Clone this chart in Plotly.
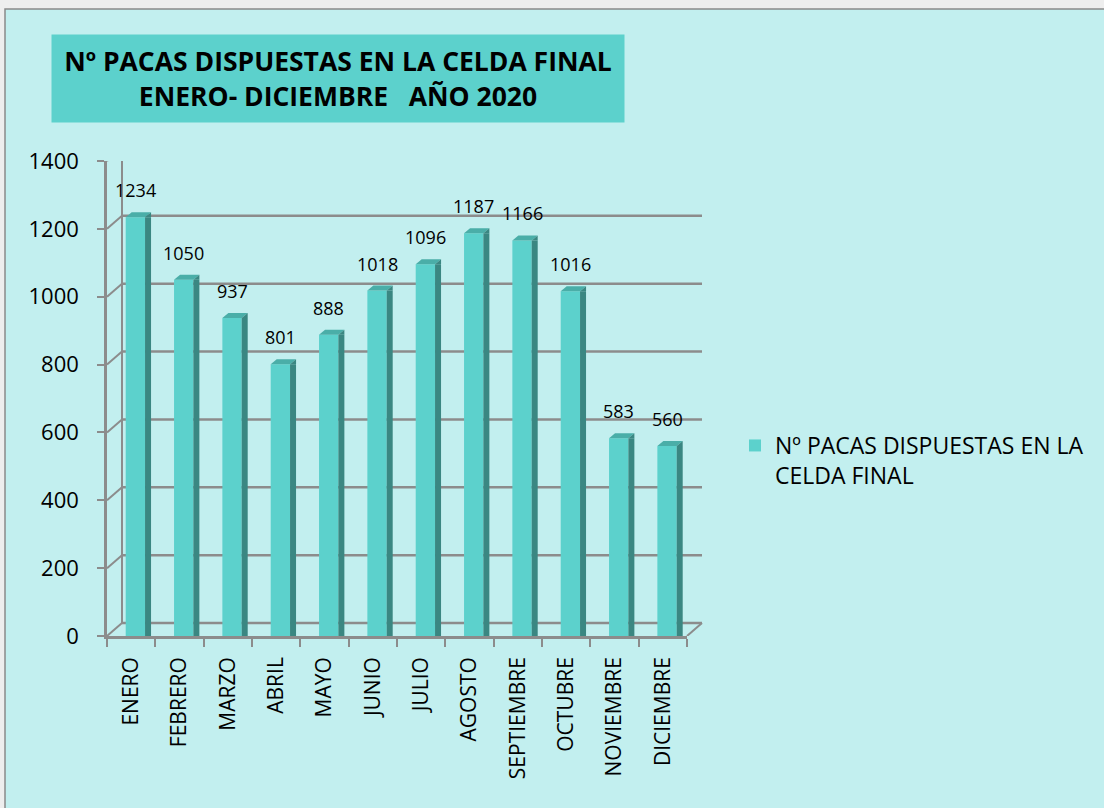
import plotly.graph_objects as go

# ---------------- data ----------------
months = ["ENERO", "FEBRERO", "MARZO", "ABRIL", "MAYO", "JUNIO", "JULIO",
          "AGOSTO", "SEPTIEMBRE", "OCTUBRE", "NOVIEMBRE", "DICIEMBRE"]
values = [1234, 1050, 937, 801, 888, 1018, 1096, 1187, 1166, 1016, 583, 560]
y_ticks = [0, 200, 400, 600, 800, 1000, 1200, 1400]
series_name = "Nº PACAS DISPUESTAS EN LA<br>CELDA FINAL"
title_text = "<b>Nº PACAS DISPUESTAS EN LA CELDA FINAL<br>ENERO- DICIEMBRE   AÑO 2020</b>"

# ---------------- styling ----------------
W, H = 1104, 808
L, R, T, B = 107, 417, 161, 172
plot_w = W - L - R
plot_h = H - T - B
n = len(months)
px_cat = plot_w / n

FACE = "#5CD1CC"
SIDE = "#3A8782"
TOP = "#4AAEA8"
BG = "#C2EFEF"
GRID = "#8C8C8C"
FONT = "Open Sans"

bar_width = 0.4
bar_offset = -0.113
depth_x, depth_y = 6, 5       # bar depth in px
wall_dx, wall_dy = 15, 13     # back wall offset in px


def px_x(p):
    return (p - L) / plot_w


def px_y(p):
    return (H - B - p) / plot_h


fig = go.Figure()
fig.add_trace(go.Bar(
    x=list(range(n)), y=values, width=bar_width, offset=bar_offset,
    marker=dict(color=FACE, line=dict(width=0)),
    name=series_name, showlegend=True, hoverinfo="x+y",
))

shapes = []
# panel background
shapes.append(dict(type="rect", xref="paper", yref="paper", layer="below",
                   x0=px_x(5), x1=px_x(W + 10), y0=px_y(9), y1=px_y(H + 10),
                   fillcolor=BG, line=dict(color="#8A8A8A", width=1.5)))
# back wall gridlines + diagonals
for v in y_ticks:
    shapes.append(dict(type="line", xref="paper", yref="y", ysizemode="pixel",
                       yanchor=v, x0=px_x(L + wall_dx), x1=px_x(L + plot_w + wall_dx),
                       y0=wall_dy, y1=wall_dy, layer="below",
                       line=dict(color=GRID, width=2.5)))
    shapes.append(dict(type="line", xref="paper", yref="y", ysizemode="pixel",
                       yanchor=v, x0=px_x(L), x1=px_x(L + wall_dx),
                       y0=0, y1=wall_dy, layer="below",
                       line=dict(color=GRID, width=2)))
# back wall vertical
shapes.append(dict(type="line", xref="paper", yref="y", ysizemode="pixel",
                   yanchor=y_ticks[0], x0=px_x(L + wall_dx), x1=px_x(L + wall_dx),
                   y0=wall_dy, y1=wall_dy + plot_h, layer="below",
                   line=dict(color=GRID, width=2)))
# floor right diagonal
shapes.append(dict(type="line", xref="paper", yref="y", ysizemode="pixel",
                   yanchor=y_ticks[0], x0=px_x(L + plot_w), x1=px_x(L + plot_w + wall_dx),
                   y0=0, y1=wall_dy, layer="below",
                   line=dict(color=GRID, width=2)))

xl = bar_offset * px_cat
xr = (bar_offset + bar_width) * px_cat
for i, v in enumerate(values):
    # side face
    shapes.append(dict(type="rect", xref="x", yref="y", xsizemode="pixel", xanchor=i,
                       x0=xr, x1=xr + depth_x, y0=0, y1=v, layer="above",
                       fillcolor=SIDE, line=dict(width=0)))
    # top face
    shapes.append(dict(type="path", xref="x", yref="y", xsizemode="pixel", ysizemode="pixel",
                       xanchor=i, yanchor=v, layer="above",
                       path=f"M{xl},0 L{xr},0 L{xr + depth_x},{depth_y} L{xl + depth_x},{depth_y} Z",
                       fillcolor=TOP, line=dict(width=0)))
    shapes.append(dict(type="path", xref="x", yref="y", xsizemode="pixel", ysizemode="pixel",
                       xanchor=i, yanchor=v, layer="above",
                       path=f"M{xr},0 L{xr + depth_x},{depth_y} L{xr + depth_x},0 Z",
                       fillcolor=SIDE, line=dict(width=0)))

annotations = []
for i, v in enumerate(values):
    annotations.append(dict(x=i + (bar_offset + bar_width / 2), y=v, xref="x", yref="y",
                            text=str(v), showarrow=False, yanchor="bottom", yshift=13,
                            font=dict(family=FONT, size=18, color="#000000")))
# title box
annotations.append(dict(xref="paper", yref="paper", x=px_x(338), y=px_y(78.5),
                        xanchor="center", yanchor="middle", text=title_text,
                        showarrow=False, bgcolor=FACE, width=572, height=87,
                        borderpad=0, align="center",
                        font=dict(family=FONT, size=26.5, color="#000000")))

fig.update_layout(
    width=W, height=H,
    margin=dict(l=L, r=R, t=T, b=B, pad=0),
    paper_bgcolor="#EEEEEE", plot_bgcolor="rgba(0,0,0,0)",
    shapes=shapes, annotations=annotations,
    showlegend=True,
    legend=dict(x=px_x(735), y=px_y(424), xanchor="left", yanchor="top",
                font=dict(family=FONT, size=23, color="#000000"),
                bgcolor="rgba(0,0,0,0)", valign="top"),
    xaxis=dict(range=[-0.5, n - 0.5], tickmode="array", tickvals=list(range(n)),
               ticktext=months, tickangle=-90, ticks="", showgrid=False,
               showline=True, linecolor=GRID, linewidth=2.5,
               tickfont=dict(family=FONT, size=21, color="#000000"),
               ticklabelstandoff=10, zeroline=False,
               minor=dict(tickmode="array", tickvals=[i - 0.5 for i in range(n + 1)],
                          ticks="outside", ticklen=8, tickwidth=2, tickcolor=GRID)),
    yaxis=dict(range=[y_ticks[0], y_ticks[-1]], tickmode="array", tickvals=y_ticks,
               ticks="outside", ticklen=7, tickwidth=2, tickcolor=GRID,
               showgrid=False, showline=True, linecolor=GRID, linewidth=2.5,
               zeroline=False, ticklabelstandoff=14,
               tickfont=dict(family=FONT, size=22, color="#000000")),
    hovermode=False,
)

fig.write_html("out.html", config={"displayModeBar": False},
               post_script="document.body.style.margin='0';document.body.style.background='#C2EFEF';")
